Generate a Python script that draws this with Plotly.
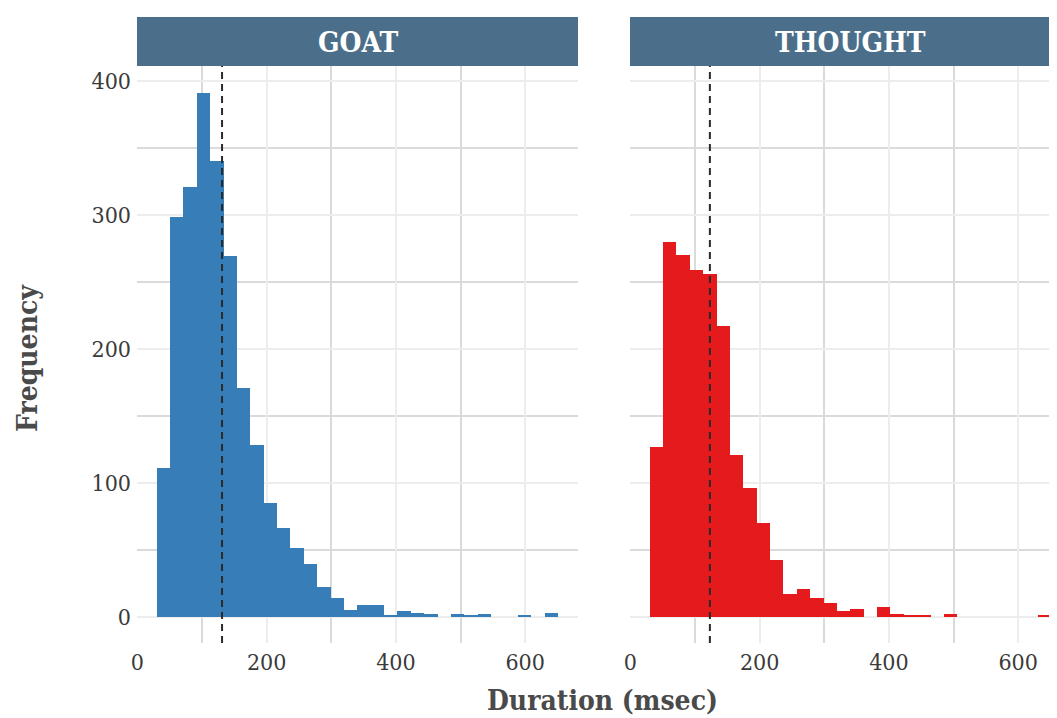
import plotly.graph_objects as go

# ---- data ----
bin_centers = [40.1, 60.8, 81.5, 102.2, 122.9, 143.6, 164.3, 185.0, 205.7, 226.4,
               247.1, 267.8, 288.5, 309.2, 329.9, 350.6, 371.3, 392.0, 412.7, 433.4,
               454.1, 474.8, 495.5, 516.2, 536.9, 557.6, 578.3, 599.0, 619.7, 640.4]
bin_width = 20.7

goat_counts = [111, 298, 321, 391, 340, 269, 171, 128, 85, 66,
               51, 39, 22, 14, 5, 9, 9, 1, 4, 3,
               2, 0, 2, 1, 2, 0, 0, 1, 0, 3]
thought_counts = [127, 280, 270, 259, 256, 217, 121, 96, 70, 42,
                  17, 21, 14, 10, 4, 6, 0, 7, 2, 1,
                  1, 0, 2, 0, 0, 0, 0, 0, 0, 1]

goat_mean = 131
thought_mean = 123

panels = ["GOAT", "THOUGHT"]
colors = ["#377EB8", "#E41A1C"]
x_ticks = [0, 200, 400, 600]
y_ticks = [0, 100, 200, 300, 400]

FONT = "DejaVu Serif Condensed, DejaVu Serif, serif"
OFF = 8  # page body margin
W, H = 1057 - OFF, 718 - OFF
L, R, T = 137 - OFF, 0, 66 - OFF
B = H - (643 - OFF)
plot_w = W - L - R
plot_h = H - T - B
px_per_unit = 0.6463


def px(xp):
    return (xp - 137) / plot_w


def py(yp):
    return (643 - yp) / plot_h


fig = go.Figure()
for i, (counts, col) in enumerate([(goat_counts, colors[0]), (thought_counts, colors[1])]):
    fig.add_trace(go.Bar(
        x=bin_centers, y=counts, width=bin_width,
        marker=dict(color=col, line=dict(width=0)),
        xaxis="x" if i == 0 else "x2", yaxis="y" if i == 0 else "y2",
        showlegend=False, hoverinfo="x+y",
    ))

panel_w = 441
goat_dom = [0, panel_w / plot_w]
thought_dom = [px(630), 1.0]
x_lo = -0.6
x_hi_goat = x_lo + panel_w / px_per_unit
x_hi_thought = x_lo + (1057 - 630) / px_per_unit
y_range = [-19.6, 411.0]

grid_major = "#EDEDED"
grid_minor = "#DADADA"
tick_font = dict(family=FONT, size=23, color="#3A3A3A")

common_x = dict(
    tickvals=x_ticks, showgrid=True, gridcolor=grid_major, gridwidth=2,
    minor=dict(dtick=100, tick0=0, showgrid=True, gridcolor=grid_minor, gridwidth=2),
    zeroline=False, showline=False, ticks="", tickfont=tick_font,
    ticklabelstandoff=3, automargin=False,
)
common_y = dict(
    range=y_range, tickvals=y_ticks, showgrid=True, gridcolor=grid_major, gridwidth=2,
    minor=dict(dtick=50, tick0=0, showgrid=True, gridcolor=grid_minor, gridwidth=2),
    zeroline=False, showline=False, ticks="", tickfont=tick_font, automargin=False,
)

fig.update_layout(
    width=W, height=H,
    margin=dict(l=L, r=R, t=T, b=B, autoexpand=False),
    paper_bgcolor="white", plot_bgcolor="white",
    bargap=0,
    xaxis=dict(domain=goat_dom, range=[x_lo, x_hi_goat], anchor="y", **common_x),
    xaxis2=dict(domain=thought_dom, range=[x_lo, x_hi_thought], anchor="y2", **common_x),
    yaxis=dict(domain=[0, 1], anchor="x", ticklabelstandoff=5, **common_y),
    yaxis2=dict(domain=[0, 1], anchor="x2", showticklabels=False, **common_y),
)

# mean lines
for xref, yref, m in [("x", "y domain", goat_mean), ("x2", "y2 domain", thought_mean)]:
    fig.add_shape(type="line", xref=xref, yref=yref, x0=m, x1=m, y0=0, y1=1,
                  line=dict(color="#2A2A2A", width=2, dash="7px,5px"), layer="above")

# strips
strip_h = 49 / plot_h
for x0p, name in [(137, panels[0]), (630, panels[1])]:
    fig.add_shape(type="rect", xref="paper", yref="paper",
                  x0=px(x0p), x1=px(x0p + panel_w),
                  y0=1, y1=1 + strip_h, fillcolor="#4B6F8B", line=dict(width=0), layer="above")
    fig.add_annotation(text=f"<b>{name}</b>", x=px(x0p + panel_w / 2), y=py(43),
                       xref="paper", yref="paper",
                       showarrow=False, xanchor="center", yanchor="middle",
                       font=dict(family=FONT, size=28, color="white"))

# axis titles
fig.add_annotation(text="<b>Duration (msec)</b>", x=px(602), y=py(700),
                   xref="paper", yref="paper", showarrow=False, xanchor="center", yanchor="middle",
                   font=dict(family=FONT, size=28, color="#4A4A4A"))
fig.add_annotation(text="<b>Frequency</b>", x=px(28), y=py(358),
                   xref="paper", yref="paper", showarrow=False, xanchor="center", yanchor="middle",
                   textangle=-90, font=dict(family=FONT, size=28, color="#4A4A4A"))

fig.write_html("out.html")
